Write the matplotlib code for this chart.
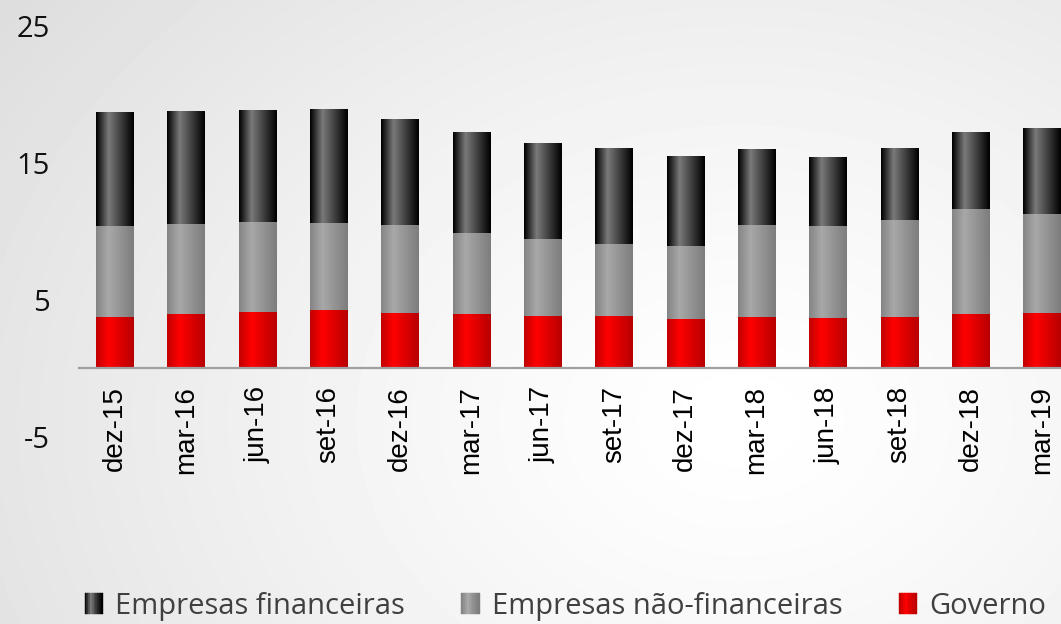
import numpy as np
import matplotlib
matplotlib.use("Agg")
import matplotlib.pyplot as plt
from matplotlib.patches import Rectangle, Patch
from matplotlib.legend_handler import HandlerBase
from matplotlib.colors import to_rgb

# dados (% , empilhados)
datas = ["dez-15", "mar-16", "jun-16", "set-16", "dez-16", "mar-17", "jun-17",
         "set-17", "dez-17", "mar-18", "jun-18", "set-18", "dez-18", "mar-19"]
governo = [3.74, 3.96, 4.11, 4.26, 4.04, 3.96, 3.82, 3.82, 3.60, 3.74, 3.67, 3.74, 3.96, 4.04]
nao_financeiras = [6.65, 6.57, 6.57, 6.34, 6.42, 5.92, 5.62, 5.25, 5.33, 6.72, 6.72, 7.09, 7.67, 7.22]
financeiras = [8.32, 8.25, 8.18, 8.33, 7.72, 7.37, 7.01, 7.01, 6.57, 5.54, 5.03, 5.25, 5.62, 6.28]
yticks = [-5, 5, 15, 25]

# gradientes (borda esq, brilho, borda dir)
grad_fin = ["#000000", "#7a7a7a", "#000000"]
grad_nfin = ["#858585", "#a8a8a8", "#7d7d7d"]
grad_gov = ["#c20000", "#ff0000", "#b80000"]


def faixa(cores, n=64):
    pos = [0, 0.33, 1]
    rgb = np.array([to_rgb(c) for c in cores])
    x = np.linspace(0, 1, n)
    return np.stack([np.interp(x, pos, rgb[:, k]) for k in range(3)], axis=-1)[None, :, :]


class HandlerGrad(HandlerBase):
    def __init__(self, cores):
        super().__init__()
        self.cores = cores

    def create_artists(self, legend, orig_handle, xdescent, ydescent,
                       width, height, fontsize, trans):
        n = 10
        cols = faixa(self.cores, n)[0]
        arts = []
        for i, c in enumerate(cols):
            r = Rectangle((-xdescent + i * width / n, -ydescent), width / n, height,
                          facecolor=c, edgecolor=c, lw=0.3, transform=trans)
            arts.append(r)
        return arts


fig = plt.figure(figsize=(10.61, 6.24), dpi=100)

# fundo com degrade
bg = fig.add_axes([0, 0, 1, 1], zorder=-10)
yy, xx = np.mgrid[0:624, 0:1061]
d = np.hypot(xx - 740, (yy - 420) * 1.3)
val = 1 - 0.13 * np.clip(d / 900, 0, 1) ** 1.3
bg.imshow(val, cmap="gray", vmin=0, vmax=1, aspect="auto")
bg.axis("off")

ax = fig.add_axes([79 / 1061, 0.300, 1 - 79 / 1061, 0.6587])
ax.set_facecolor("none")

x = np.arange(len(datas))
w = 0.52
base2 = np.array(governo)
base3 = base2 + np.array(nao_financeiras)
series = [
    (governo, 0, grad_gov),
    (nao_financeiras, base2, grad_nfin),
    (financeiras, base3, grad_fin),
]
for vals, base, cores in series:
    bars = ax.bar(x, vals, w, bottom=base, color=cores[1], linewidth=0, zorder=2)
    img = faixa(cores)
    for p in bars.patches:
        x0, y0 = p.get_x(), p.get_y()
        im = ax.imshow(img, extent=[x0, x0 + p.get_width(), y0, y0 + p.get_height()],
                       aspect="auto", zorder=3, interpolation="bilinear")
        im.set_clip_path(p)

ax.set_xlim(-0.5, 13.27)
ax.set_ylim(-5, 25)
ax.set_aspect("auto")
for s in ["top", "right", "left"]:
    ax.spines[s].set_visible(False)
ax.spines["bottom"].set_position(("data", 0))
ax.spines["bottom"].set_color("#a0a0a0")
ax.spines["bottom"].set_linewidth(1.6)
ax.spines["bottom"].set_zorder(4)

ax.set_yticks(yticks)
ax.set_yticklabels([str(t) for t in yticks], fontsize=21, family="Open Sans", color="#111111")
ax.tick_params(axis="y", length=0, pad=21)

ax.set_xticks(x)
ax.set_xticklabels(datas, rotation=90, fontsize=20, family="Liberation Sans", color="#000000")
ax.tick_params(axis="x", length=0, pad=13)

h_fin = Patch(color="#333333")
h_nfin = Patch(color="#999999")
h_gov = Patch(color="#ee0000")
leg = fig.legend([h_fin, h_nfin, h_gov],
                 ["Empresas financeiras", "Empresas não-financeiras", "Governo"],
                 handler_map={h_fin: HandlerGrad(grad_fin), h_nfin: HandlerGrad(grad_nfin),
                              h_gov: HandlerGrad(grad_gov)},
                 loc="center", bbox_to_anchor=(0.533, 0.028), ncol=3, frameon=False,
                 prop={"family": "Open Sans", "size": 21},
                 handlelength=0.62, handleheight=0.72, handletextpad=0.42,
                 columnspacing=1.95, labelcolor="#404040")

fig.savefig("out.png", dpi=100)
